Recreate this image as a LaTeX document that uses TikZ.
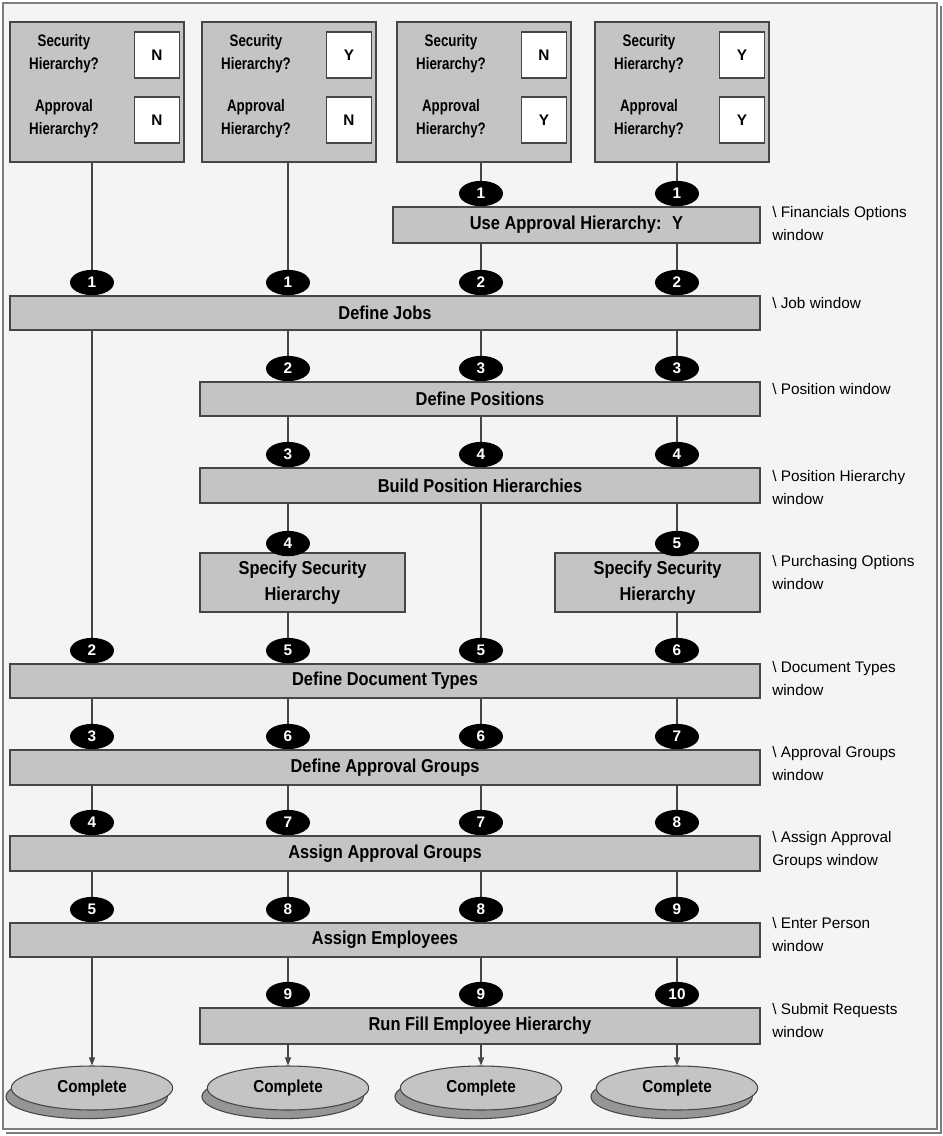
\documentclass[tikz,border=0pt]{standalone}
\usepackage{fontspec}
\setmainfont{Liberation Sans}
\newfontfamily\narrowfont[FakeStretch=0.88]{Liberation Sans}
\newfontfamily\tightfont[FakeStretch=0.8]{Liberation Sans}
\usepackage{tikz}
\usetikzlibrary{arrows.meta,fit,positioning,shapes.geometric}
\definecolor{framegrey}{RGB}{125,125,125}
\definecolor{paper}{RGB}{244,244,244}
\definecolor{boxgrey}{RGB}{196,196,196}
\definecolor{edgegrey}{RGB}{70,70,70}
\definecolor{shadowgrey}{RGB}{150,150,150}
\tikzset{
  bar/.style={draw=edgegrey,thick,fill=boxgrey,inner sep=0pt,align=center,
    font=\narrowfont\bfseries\fontsize{14}{19.5}\selectfont},
  askbox/.style={draw=edgegrey,thick,fill=boxgrey,inner sep=0pt},
  answer/.style={draw=edgegrey,thick,fill=white,minimum width=33.75pt,
    minimum height=34.5pt,inner sep=0pt,font=\bfseries\fontsize{11.5}{13}\selectfont},
  asklabel/.style={align=center,inner sep=0pt,
    font=\tightfont\bfseries\fontsize{12.5}{17}\selectfont},
  badge/.style={ellipse,fill=black,text=white,minimum width=33pt,
    minimum height=19pt,inner sep=0pt,font=\bfseries\fontsize{11.5}{13}\selectfont},
  wlabel/.style={anchor=north west,align=left,inner sep=0pt,
    font=\fontsize{11.5}{17}\selectfont},
  link/.style={draw=edgegrey,thick},
  done/.style={ellipse,draw=edgegrey,thick,fill=boxgrey,minimum width=121pt,
    minimum height=33pt,inner sep=0pt,font=\narrowfont\bfseries\fontsize{13}{15}\selectfont},
  doneshadow/.style={ellipse,draw=edgegrey,thick,fill=shadowgrey,
    minimum width=121pt,minimum height=33pt,inner sep=0pt}
}

\begin{document}
\begin{tikzpicture}[x=0.75pt,y=-0.75pt]
  \useasboundingbox (0,0) rectangle (943,1136);
  % frame
  \fill[white] (0,0) rectangle (943,1136);
  \fill[paper] (3,3) rectangle (937,1129);
  \draw[framegrey,line width=1pt] (3,3) rectangle (937,1129);
  \draw[framegrey,line width=1pt] (941,6) -- (941,1133) -- (6,1133);

  % columns
  \coordinate (c1) at (92,0);
  \coordinate (c2) at (288,0);
  \coordinate (c3) at (481,0);
  \coordinate (c4) at (677,0);

  % question boxes
  \foreach \n/\x/\s/\a in {1/10/N/N,2/202/Y/N,3/397/N/Y,4/595/Y/Y} {
    \node[askbox,fit={(\x,22) (\x+174,162)}] (ask\n) {};
    \node[asklabel] (sec\n) at (\x+54,54) {Security\\Hierarchy?};
    \node[asklabel] (app\n) at (\x+54,119) {Approval\\Hierarchy?};
    \node[answer] (secv\n) at (\x+147,55) {\s};
    \node[answer] (appv\n) at (\x+147,120) {\a};
  }

  % steps
  \node[bar,minimum width=275.25pt,minimum height=27pt] (uah) at (576.5,225)
    {Use Approval Hierarchy:~ Y};
  \node[bar,minimum width=562.5pt,minimum height=25.5pt] (jobs) at (385,313) {Define Jobs};
  \node[bar,minimum width=420pt,minimum height=25.5pt] (pos) at (480,399) {Define Positions};
  \node[bar,minimum width=420pt,minimum height=26.25pt] (hier) at (480,485.5)
    {Build Position Hierarchies};
  \node[bar,minimum width=153.75pt,minimum height=44.25pt] (secL) at (302.5,582.5)
    {Specify Security\\Hierarchy};
  \node[bar,minimum width=153.75pt,minimum height=44.25pt] (secR) at (657.5,582.5)
    {Specify Security\\Hierarchy};
  \node[bar,minimum width=562.5pt,minimum height=25.5pt] (doc) at (385,681)
    {Define Document Types};
  \node[bar,minimum width=562.5pt,minimum height=26.25pt] (grp) at (385,767.5)
    {Define Approval Groups};
  \node[bar,minimum width=562.5pt,minimum height=26.25pt] (asg) at (385,853.5)
    {Assign Approval Groups};
  \node[bar,minimum width=562.5pt,minimum height=25.5pt] (emp) at (385,940) {Assign Employees};
  \node[bar,minimum width=420pt,minimum height=27pt] (fill) at (480,1026)
    {Run Fill Employee Hierarchy};

  % end states
  \foreach \c in {1,2,3,4} {
    \node[doneshadow] (doneshade\c) at ([xshift=-4pt,yshift=-6.5pt]c\c |- 0,1088) {};
    \node[done] (done\c) at (c\c |- 0,1088) {Complete};
  }

  % window labels
  \node[wlabel] (w-uah) at (772,206) {\textbackslash\ Financials Options\\window};
  \node[wlabel] (w-jobs) at (772,297) {\textbackslash\ Job window};
  \node[wlabel] (w-pos) at (772,383) {\textbackslash\ Position window};
  \node[wlabel] (w-hier) at (772,470) {\textbackslash\ Position Hierarchy\\window};
  \node[wlabel] (w-sec) at (772,555) {\textbackslash\ Purchasing Options\\window};
  \node[wlabel] (w-doc) at (772,661) {\textbackslash\ Document Types\\window};
  \node[wlabel] (w-grp) at (772,746) {\textbackslash\ Approval Groups\\window};
  \node[wlabel] (w-asg) at (772,831) {\textbackslash\ Assign Approval\\Groups window};
  \node[wlabel] (w-emp) at (772,917) {\textbackslash\ Enter Person\\window};
  \node[wlabel] (w-fill) at (772,1003) {\textbackslash\ Submit Requests\\window};

  % connectors
  \foreach \c/\a/\b in {1/ask1/jobs,1/jobs/doc,1/doc/grp,1/grp/asg,1/asg/emp,
      2/ask2/jobs,2/jobs/pos,2/pos/hier,2/hier/secL,2/secL/doc,2/doc/grp,
      2/grp/asg,2/asg/emp,2/emp/fill,
      3/ask3/uah,3/uah/jobs,3/jobs/pos,3/pos/hier,3/hier/doc,3/doc/grp,
      3/grp/asg,3/asg/emp,3/emp/fill,
      4/ask4/uah,4/uah/jobs,4/jobs/pos,4/pos/hier,4/hier/secR,4/secR/doc,
      4/doc/grp,4/grp/asg,4/asg/emp,4/emp/fill}
    \draw[link] (\a.south -| c\c) -- (\b.north -| c\c);
  \draw[link,-{Triangle[length=6pt,width=4.5pt]}] (emp.south -| c1) -- (done1.north);
  \foreach \c in {2,3,4}
    \draw[link,-{Triangle[length=6pt,width=4.5pt]}] (fill.south -| c\c) -- (done\c.north);

  % step numbers
  \foreach \c/\k in {3/1,4/1}
    \node[badge,anchor=south] (uah-n\c) at (uah.north -| c\c) {\k};
  \foreach \c/\k in {1/1,2/1,3/2,4/2}
    \node[badge,anchor=south] (jobs-n\c) at (jobs.north -| c\c) {\k};
  \foreach \c/\k in {2/2,3/3,4/3}
    \node[badge,anchor=south] (pos-n\c) at (pos.north -| c\c) {\k};
  \foreach \c/\k in {2/3,3/4,4/4}
    \node[badge,anchor=south] (hier-n\c) at (hier.north -| c\c) {\k};
  \node[badge,anchor=south,yshift=-3pt] (secL-n2) at (secL.north -| c2) {4};
  \node[badge,anchor=south,yshift=-3pt] (secR-n4) at (secR.north -| c4) {5};
  \foreach \c/\k in {1/2,2/5,3/5,4/6}
    \node[badge,anchor=south] (doc-n\c) at (doc.north -| c\c) {\k};
  \foreach \c/\k in {1/3,2/6,3/6,4/7}
    \node[badge,anchor=south] (grp-n\c) at (grp.north -| c\c) {\k};
  \foreach \c/\k in {1/4,2/7,3/7,4/8}
    \node[badge,anchor=south] (asg-n\c) at (asg.north -| c\c) {\k};
  \foreach \c/\k in {1/5,2/8,3/8,4/9}
    \node[badge,anchor=south] (emp-n\c) at (emp.north -| c\c) {\k};
  \foreach \c/\k in {2/9,3/9,4/10}
    \node[badge,anchor=south] (fill-n\c) at (fill.north -| c\c) {\k};
\end{tikzpicture}
\end{document}
